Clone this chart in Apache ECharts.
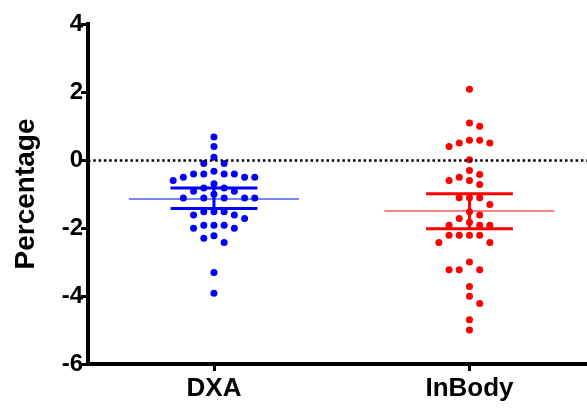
<!DOCTYPE html>
<html><head><meta charset="utf-8">
<script src="https://cdn.jsdelivr.net/npm/echarts@6/dist/echarts.min.js"></script>
<style>html,body{margin:0;padding:0;background:#fff}#c{width:587px;height:409px}</style>
</head><body><div id="c"></div>
<script>
const categories = ['DXA', 'InBody'];
const dxaValues = [0.68, 0.40, 0.08, -0.10, -0.10, -0.33, -0.41, -0.41, -0.41, -0.41,
  -0.51, -0.51, -0.51, -0.60, -0.70, -0.82, -0.82, -0.92, -0.92, -1.01,
  -1.12, -1.12, -1.12, -1.12, -1.12, -1.52, -1.52, -1.52, -1.62, -1.62,
  -1.72, -1.92, -1.92, -1.92, -2.01, -2.01, -2.23, -2.30, -2.43, -3.31, -3.92];
const inbodyValues = [2.08, 1.09, 0.99, 0.58, 0.58, 0.50, 0.50, 0.40, 0.01, -0.31,
  -0.43, -0.51, -0.60, -0.60, -0.72, -1.11, -1.11, -1.11, -1.31, -1.52,
  -1.62, -1.72, -1.83, -1.92, -1.92, -1.92, -2.21, -2.21, -2.21, -2.21,
  -2.43, -2.43, -3.00, -3.23, -3.23, -3.23, -3.72, -4.01, -4.22, -4.70, -5.00];
const means = [-1.15, -1.50];
const ciLow = [-1.43, -2.02];
const ciHigh = [-0.82, -0.99];
const yMin = -6, yMax = 4, yStep = 2;

const dotColors = ['#0000ff', '#ff0000'];
const meanColors = ['#4a5cf2', '#f25a5a'];
const FONT = '"Liberation Sans", Arial, Helvetica, sans-serif';

const chart = echarts.init(document.getElementById('c'), null, {renderer: 'canvas'});

function buildOption(dxaData, inbodyData) {
  return {
    animation: false,
    backgroundColor: '#ffffff',
    grid: {left: 88, right: 0, top: 24, bottom: 45, containLabel: false},
    xAxis: {
      type: 'value', min: -0.493, max: 1.460,
      axisLine: {show: true, onZero: false, lineStyle: {color: '#000', width: 4, cap: 'square'}},
      axisTick: {show: true, customValues: [0, 1], length: 7, lineStyle: {color: '#000', width: 3}},
      axisLabel: {show: true, customValues: [0, 1], formatter: v => categories[Math.round(v)] || '',
        color: '#000', fontFamily: FONT, fontWeight: 'bold', fontSize: 26, margin: 12},
      splitLine: {show: false}
    },
    yAxis: {
      type: 'value', min: yMin, max: yMax, interval: yStep,
      name: 'Percentage', nameLocation: 'middle', nameGap: 48,
      nameTextStyle: {color: '#000', fontFamily: FONT, fontWeight: 'bold', fontSize: 28},
      axisLine: {show: true, onZero: false, lineStyle: {color: '#000', width: 4, cap: 'square'}},
      axisTick: {show: true, length: 7, lineStyle: {color: '#000', width: 3}},
      axisLabel: {color: '#000', fontFamily: FONT, fontWeight: 'bold', fontSize: 24, margin: 5},
      splitLine: {show: false}
    },
    series: [
      {
        type: 'scatter', data: [], z: 1, silent: true,
        markLine: {silent: true, symbol: 'none', label: {show: false},
          lineStyle: {color: '#000', type: [2.5, 2.8], width: 2.5, opacity: 1}, data: [{yAxis: 0}]}
      },
      {
        type: 'custom', z: 2, silent: true,
        data: categories.map((c, i) => [i, means[i]]),
        renderItem: (params, api) => {
          const i = api.value(0);
          const p = api.coord([i, api.value(1)]);
          const hw = api.size([0.333, 0])[0];
          return {type: 'line', shape: {x1: p[0] - hw, y1: p[1], x2: p[0] + hw, y2: p[1]},
            style: {stroke: meanColors[i], lineWidth: 1.5}};
        }
      },
      {type: 'scatter', name: 'DXA', z: 3, data: dxaData, symbolSize: 7,
        itemStyle: {color: dotColors[0], opacity: 1}},
      {type: 'scatter', name: 'InBody', z: 3, data: inbodyData, symbolSize: 7,
        itemStyle: {color: dotColors[1], opacity: 1}},
      {
        type: 'custom', z: 4, silent: true,
        data: categories.map((c, i) => [i, ciLow[i], ciHigh[i]]),
        renderItem: (params, api) => {
          const i = api.value(0);
          const lo = api.coord([i, api.value(1)]);
          const hi = api.coord([i, api.value(2)]);
          const hw = api.size([0.17, 0])[0];
          const st = {stroke: dotColors[i], lineWidth: 3};
          return {type: 'group', children: [
            {type: 'line', shape: {x1: lo[0], y1: lo[1], x2: hi[0], y2: hi[1]}, style: st},
            {type: 'line', shape: {x1: lo[0] - hw, y1: lo[1], x2: lo[0] + hw, y2: lo[1]}, style: st},
            {type: 'line', shape: {x1: hi[0] - hw, y1: hi[1], x2: hi[0] + hw, y2: hi[1]}, style: st}
          ]};
        }
      }
    ]
  };
}

chart.setOption(buildOption([], []));

// simple beeswarm layout computed in pixel space through the chart's own scales
function swarm(values, ci) {
  const S = 10.2, H = 9.5;
  const pts = values.map(v => ({v: v, py: chart.convertToPixel({gridIndex: 0}, [ci, v])[1]}));
  const order = pts.slice().sort((a, b) => a.py - b.py);
  const placed = [];
  order.forEach((p, n) => {
    let best = null;
    for (let k = 0; k < 60 && best === null; k++) {
      const sgn = (n % 2 === 0) ? 1 : -1;
      const cands = k === 0 ? [0] : [sgn * k * S / 2, -sgn * k * S / 2];
      for (const c of cands) {
        if (placed.every(q => Math.abs(q.py - p.py) >= H || Math.abs(q.ox - c) >= S - 0.01)) { best = c; break; }
      }
    }
    p.ox = best;
    placed.push(p);
  });
  const x0 = chart.convertToPixel({gridIndex: 0}, [0, 0])[0];
  const x1 = chart.convertToPixel({gridIndex: 0}, [1, 0])[0];
  const unit = x1 - x0;
  return pts.map(p => [ci + p.ox / unit, p.v]);
}

chart.setOption(buildOption(swarm(dxaValues, 0), swarm(inbodyValues, 1)));
</script></body></html>
